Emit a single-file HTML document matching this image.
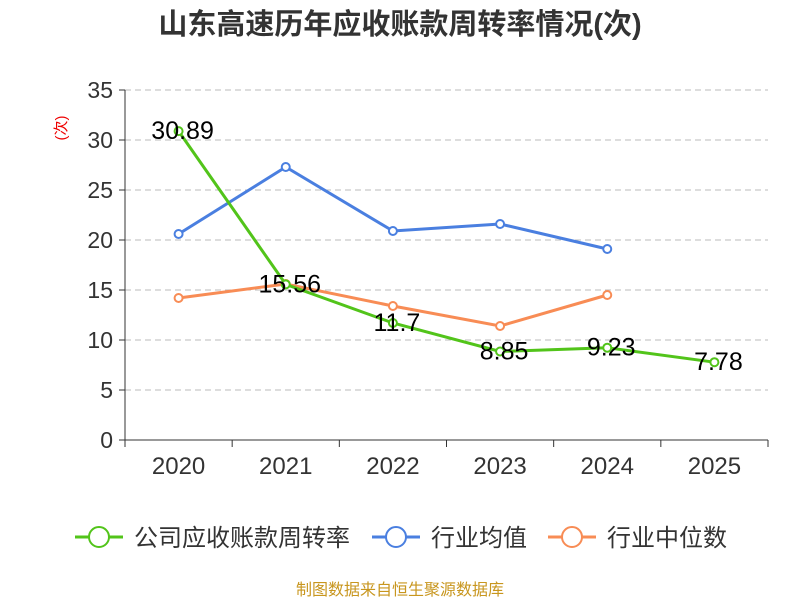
<!DOCTYPE html>
<html><head><meta charset="utf-8"><style>
body{margin:0;background:#fff;}
svg{font-family:"Liberation Sans","Noto Sans CJK SC",sans-serif;}
</style></head><body>
<svg id="c" width="800" height="600"></svg>
<script>
const categories=['2020','2021','2022','2023','2024','2025'];
const companyValues=[30.89,15.56,11.7,8.85,9.23,7.78];
const industryAvg=[20.6,27.3,20.9,21.6,19.1];
const industryMedian=[14.2,15.6,13.4,11.4,14.5];
const yTicks=[0,5,10,15,20,25,30,35];
const svg=document.getElementById('c');
const NS='http://www.w3.org/2000/svg';
const L=125,R=768,T=90,B=440,yMax=35;
const bw=(R-L)/categories.length;
const x=i=>L+bw*(i+0.5);
const y=v=>B-(v/yMax)*(B-T);
function mk(t,a,txt){const e=document.createElementNS(NS,t);for(const k in a)e.setAttribute(k,a[k]);if(txt!==undefined)e.textContent=txt;svg.appendChild(e);return e;}
let e=mk('text',{x:400,y:34,'text-anchor':'middle','font-size':29,'font-weight':'bold',fill:'#333'},'山东高速历年应收账款周转率情况(次)');


e=mk('text',{x:66,y:128,'text-anchor':'middle','font-size':15,fill:'#e00',transform:'rotate(-90 66 128)'},'(次)');


yTicks.forEach(v=>{
  if(v>0){e=mk('line',{x1:L,x2:R,y1:y(v),y2:y(v),stroke:'#bbb','stroke-dasharray':'6,4'});
  
  }
  mk('line',{x1:L-6,x2:L,y1:y(v),y2:y(v),stroke:'#333'});
  e=mk('text',{x:L-12,y:y(v)+8,'text-anchor':'end','font-size':23,fill:'#333'},String(v));
  
  
});
mk('line',{x1:L,x2:L,y1:T,y2:B,stroke:'#333'});
mk('line',{x1:L,x2:R,y1:B,y2:B,stroke:'#333'});
categories.forEach((c,i)=>{
  mk('line',{x1:L+bw*i,x2:L+bw*i,y1:B,y2:B+7,stroke:'#333'});
  e=mk('text',{x:x(i),y:B+34,'text-anchor':'middle','font-size':24,fill:'#333'},c);
  
  
});
mk('line',{x1:R,x2:R,y1:B,y2:B+7,stroke:'#333'});
function series(vals,color,name){
  const pts=vals.map((v,i)=>x(i)+','+y(v)).join(' ');
  e=mk('polyline',{points:pts,fill:'none',stroke:color,'stroke-width':3});
  
  
  vals.forEach((v,i)=>{
    e=mk('circle',{cx:x(i),cy:y(v),r:4,fill:'#fff',stroke:color,'stroke-width':2});
    
    
  });
}
series(industryAvg,'#4a7fe0','industry-average');
series(industryMedian,'#f88c55','industry-median');
series(companyValues,'#52c41a','company');
companyValues.forEach((v,i)=>{
  e=mk('text',{x:x(i)+4,y:y(v)+8,'text-anchor':'middle','font-size':25,fill:'#000'},String(v));
  
  
});
const legend=[['公司应收账款周转率','#52c41a',75],['行业均值','#4a7fe0',372],['行业中位数','#f88c55',548]];
legend.forEach(([t,c,lx])=>{
  const g=document.createElementNS(NS,'g');svg.appendChild(g);
  
  
  const l=document.createElementNS(NS,'line');
  [['x1',lx],['x2',lx+48],['y1',537],['y2',537],['stroke',c],['stroke-width',3]].forEach(a=>l.setAttribute(a[0],a[1]));g.appendChild(l);
  const ci=document.createElementNS(NS,'circle');
  [['cx',lx+24],['cy',537],['r',10],['fill','#fff'],['stroke',c],['stroke-width',2]].forEach(a=>ci.setAttribute(a[0],a[1]));g.appendChild(ci);
  const tx=document.createElementNS(NS,'text');
  [['x',lx+59],['y',546],['font-size',24],['fill','#333']].forEach(a=>tx.setAttribute(a[0],a[1]));tx.textContent=t;g.appendChild(tx);
});
e=mk('text',{x:400,y:595,'text-anchor':'middle','font-size':16,fill:'#c8961e'},'制图数据来自恒生聚源数据库');


</script>
</body></html>
